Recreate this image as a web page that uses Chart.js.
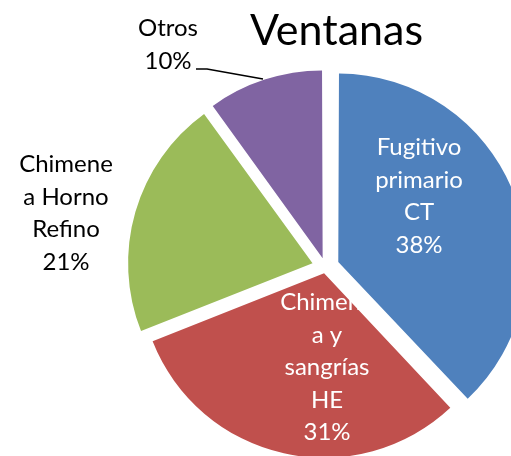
<!DOCTYPE html>
<html>
<head>
<meta charset="utf-8">
<script src="https://cdn.jsdelivr.net/npm/chart.js@4.4.1/dist/chart.umd.min.js"></script>
<style>
  html, body { margin: 0; padding: 0; background: #fff; }
  #ventanas { display: block; }
</style>
</head>
<body>
<canvas id="ventanas" width="511" height="456"></canvas>
<script>
// Ventanas: share by source
const categories = [
  ["Fugitivo", "primario", "CT"],
  ["Chimene", "a y", "sangrías", "HE"],
  ["Chimene", "a Horno", "Refino"],
  ["Otros"]
];
const shares = [38, 31, 21, 10];
const sliceColors = ["#4F81BD", "#C0504D", "#9BBB59", "#8064A2"];
// how far each slice is pulled out of the pie
const explode = [55, 26, 54, 37];

// label placement: centre x, first baseline, text colour
const labelSpots = [
  { x: 419, y: 155, color: "#fff" },
  { x: 327, y: 310, color: "#fff" },
  { x: 66, y: 172, color: "#000" },
  { x: 168, y: 36, color: "#000" }
];
const lineStep = 32.5;
const FONT = "Lato, 'Open Sans', sans-serif";

const sliceLabels = {
  id: "sliceLabels",
  afterDatasetsDraw(chart) {
    const ctx = chart.ctx;
    const total = shares.reduce((a, b) => a + b, 0);
    ctx.save();

    // leader line for the small slice
    ctx.strokeStyle = "#000";
    ctx.lineWidth = 1.5;
    ctx.beginPath();
    ctx.moveTo(196, 69);
    ctx.lineTo(207, 69);
    ctx.lineTo(263, 79);
    ctx.stroke();

    ctx.font = "24px " + FONT;
    ctx.textAlign = "center";
    ctx.textBaseline = "alphabetic";
    categories.forEach((lines, i) => {
      const spot = labelSpots[i];
      const text = lines.concat(Math.round(shares[i] / total * 100) + "%");
      ctx.fillStyle = spot.color;
      text.forEach((t, k) => ctx.fillText(t, spot.x, spot.y + k * lineStep));
    });

    ctx.fillStyle = "#000";
    ctx.font = "43px " + FONT;
    ctx.fillText("Ventanas", 336.5, 45);
    ctx.restore();
  }
};

new Chart(document.getElementById("ventanas"), {
  type: "pie",
  data: {
    labels: categories,
    datasets: [{
      data: shares,
      backgroundColor: sliceColors,
      borderWidth: 0,
      offset: explode,
      radius: 184
    }]
  },
  options: {
    responsive: false,
    animation: false,
    events: [],
    layout: { padding: { left: 140, top: 78, right: 0, bottom: 0 } },
    plugins: {
      legend: { display: false },
      tooltip: { enabled: false }
    }
  },
  plugins: [sliceLabels]
});
</script>
</body>
</html>
